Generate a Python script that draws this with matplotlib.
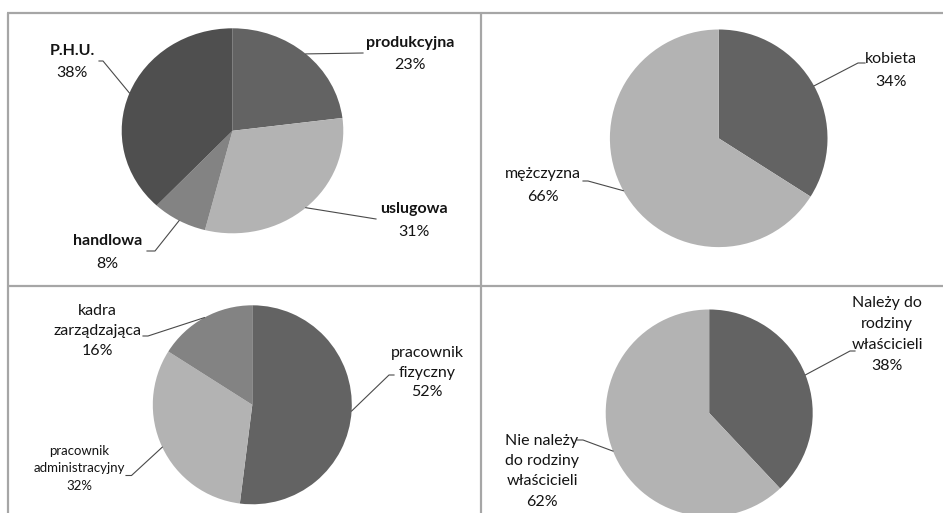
import numpy as np
import matplotlib
matplotlib.use("Agg")
import matplotlib.pyplot as plt

plt.rcParams['font.family'] = ['Lato', 'DejaVu Sans']

# ---------------- data ----------------
firm_types = ['produkcyjna', 'uslugowa', 'handlowa', 'P.H.U.']
firm_share = [23, 31, 8, 38]

gender = ['kobieta', 'mężczyzna']
gender_share = [34, 66]

position = ['pracownik\nfizyczny', 'pracownik\nadministracyjny', 'kadra\nzarządzająca']
position_share = [52, 32, 16]

family = ['Należy do\nrodziny\nwłaścicieli', 'Nie należy\ndo rodziny\nwłaścicieli']
family_share = [38, 62]

# ---------------- layout ----------------
W, H = 943, 513
fig = plt.figure(figsize=(W / 100, H / 100), dpi=100)
fig.patch.set_facecolor('white')

DARK = '#4f4f4f'
MID = '#636363'
GREY = '#838383'
LIGHT = '#b3b3b3'
TXT = '#141414'
LEAD = '#4a4a4a'

# overlay in pixel coords
ov = fig.add_axes([0, 0, 1, 1], zorder=5)
ov.set_xlim(0, W)
ov.set_ylim(H, 0)
ov.axis('off')
ov.patch.set_alpha(0)

# panel borders
bc = '#a6a6a6'
ov.plot([7, W], [13, 13], color=bc, lw=1.6, solid_capstyle='butt')
ov.plot([8, 8], [13, H], color=bc, lw=1.6, solid_capstyle='butt')
ov.plot([481, 481], [13, H], color=bc, lw=1.6, solid_capstyle='butt')
ov.plot([9, W], [286, 286], color=bc, lw=1.6, solid_capstyle='butt')


def draw_pie(vals, colors, cx, cy, rx, ry, labels_layout, names):
    ax = fig.add_axes([(cx - rx) / W, (H - (cy + ry)) / H, 2 * rx / W, 2 * ry / H], zorder=2)
    ax.pie(vals, colors=colors, startangle=90, counterclock=False,
           wedgeprops=dict(linewidth=0))
    ax.set_aspect('auto')
    ax.set_xlim(-1, 1)
    ax.set_ylim(-1, 1)
    ax.axis('off')
    total = float(sum(vals))
    cum = 0.0
    for v, name, lay in zip(vals, names, labels_layout):
        mid = 90 - 360 * (cum + v / 2) / total
        cum += v
        a = np.deg2rad(mid)
        ex, ey = cx + rx * np.cos(a), cy - ry * np.sin(a)
        pts = [(ex, ey)] + lay['lead']
        ov.plot([p[0] for p in pts], [p[1] for p in pts], color=LEAD, lw=0.8)
        lines = name.split('\n') + [f'{v}%']
        for i, ln in enumerate(lines):
            is_pct = (i == len(lines) - 1)
            ov.text(lay['x'], lay['y'] + i * lay['dy'], ln, ha='center', va='baseline',
                    fontsize=lay['fs'], color=TXT,
                    fontweight=('normal' if is_pct else lay.get('fw', 'normal')))


# top-left
draw_pie(firm_share, [MID, LIGHT, GREY, DARK], 232.5, 130.8, 110.8, 102.5, [
    dict(x=410, y=47, dy=22, fs=11.5, fw='bold', lead=[(363, 53)]),
    dict(x=414, y=213, dy=22.5, fs=11.5, fw='bold', lead=[(376, 219)]),
    dict(x=107.5, y=245, dy=23, fs=11.5, fw='bold', lead=[(155, 251), (147, 251)]),
    dict(x=72, y=55, dy=22, fs=11.5, fw='bold', lead=[(103, 61), (99, 61)]),
], firm_types)

# top-right
draw_pie(gender_share, [MID, LIGHT], 718.7, 138.3, 108.8, 108.8, [
    dict(x=891, y=63, dy=23, fs=11.5, lead=[(858, 63), (865, 63)]),
    dict(x=543, y=178, dy=23, fs=11.5, lead=[(588, 181), (583, 181)]),
], gender)

# bottom-left
draw_pie(position_share, [MID, LIGHT, GREY], 252.3, 404.8, 99.5, 99.5, [
    dict(x=427, y=356.5, dy=20, fs=11.5, lead=[(389, 375), (394, 375)]),
    dict(x=79, y=455, dy=17.5, fs=9.5, lead=[(131.5, 475.5), (126, 475.5)]),
    dict(x=97, y=315, dy=20, fs=11.5, lead=[(148, 336), (143, 336)]),
], position)

# bottom-right
draw_pie(family_share, [MID, LIGHT], 709.2, 413, 103.5, 103.5, [
    dict(x=887, y=306.5, dy=21.2, fs=11.5, lead=[(850, 351), (855, 351)]),
    dict(x=542, y=445, dy=20.2, fs=11.5, lead=[(583, 440), (577, 440)]),
], family)

fig.savefig('out.png', dpi=100, facecolor='white')
